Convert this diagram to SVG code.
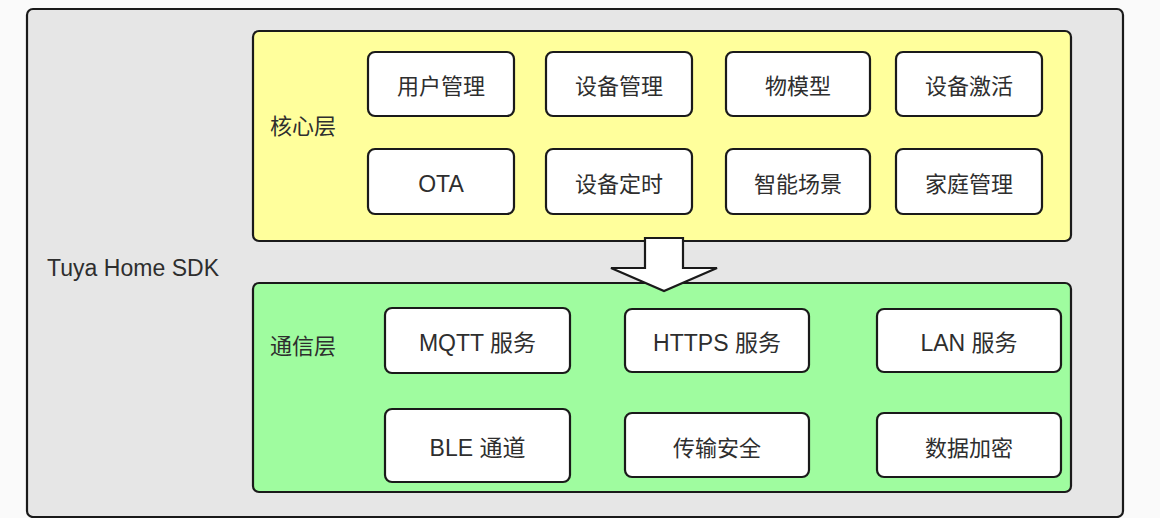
<svg xmlns="http://www.w3.org/2000/svg" width="1160" height="518" viewBox="0 0 1160 518">
<style>
  .box{fill:#ffffff;stroke:#1a1a1a;stroke-width:2.2}
  .t{font-family:"Liberation Sans","Noto Sans CJK SC",sans-serif;font-size:22px;fill:#2e2e2e;text-anchor:middle}
  .l{font-family:"Liberation Sans","Noto Sans CJK SC",sans-serif;font-size:22px;fill:#2e2e2e}
  .big{font-size:23px}
</style>
<rect x="0" y="0" width="1160" height="518" fill="#fafafa"/>
<g id="sdk">
  <rect x="27" y="9" width="1096" height="508" rx="6" fill="#e6e6e6" stroke="#1a1a1a" stroke-width="2.2"/>
  <text class="l big" x="47" y="276" textLength="172" lengthAdjust="spacing">Tuya Home SDK</text>
</g>
<g id="core-layer">
  <rect x="253" y="31" width="818" height="210" rx="6" fill="#ffff9c" stroke="#1a1a1a" stroke-width="2.2"/>
  <text class="l" x="270" y="134">核心层</text>
</g>
<g id="comm-layer">
  <rect x="253" y="283" width="818" height="209" rx="6" fill="#9ffc9f" stroke="#1a1a1a" stroke-width="2.2"/>
  <text class="l" x="270" y="354">通信层</text>
</g>
<g id="user-mgmt"><rect class="box" x="368" y="52" width="146" height="64" rx="7"/><text class="t" x="441" y="94">用户管理</text></g>
<g id="device-mgmt"><rect class="box" x="546" y="52" width="146" height="64" rx="7"/><text class="t" x="619" y="94">设备管理</text></g>
<g id="thing-model"><rect class="box" x="726" y="52" width="144" height="64" rx="7"/><text class="t" x="798" y="94">物模型</text></g>
<g id="device-activation"><rect class="box" x="896" y="52" width="146" height="64" rx="7"/><text class="t" x="969" y="94">设备激活</text></g>
<g id="ota"><rect class="box" x="368" y="149" width="146" height="65" rx="7"/><text class="t big" x="441" y="192">OTA</text></g>
<g id="device-timer"><rect class="box" x="546" y="149" width="146" height="65" rx="7"/><text class="t" x="619" y="192">设备定时</text></g>
<g id="smart-scene"><rect class="box" x="726" y="149" width="144" height="65" rx="7"/><text class="t" x="798" y="192">智能场景</text></g>
<g id="home-mgmt"><rect class="box" x="896" y="149" width="146" height="65" rx="7"/><text class="t" x="969" y="192">家庭管理</text></g>
<g id="mqtt"><rect class="box" x="385" y="308" width="185" height="65" rx="7"/><text class="t big" x="477.5" y="351">MQTT 服务</text></g>
<g id="https"><rect class="box" x="625" y="309" width="184" height="63" rx="7"/><text class="t big" x="717" y="351">HTTPS 服务</text></g>
<g id="lan"><rect class="box" x="877" y="309" width="184" height="63" rx="7"/><text class="t big" x="969" y="351">LAN 服务</text></g>
<g id="ble"><rect class="box" x="385" y="409" width="185" height="73" rx="7"/><text class="t big" x="477.5" y="456">BLE 通道</text></g>
<g id="transport-security"><rect class="box" x="625" y="413" width="184" height="64" rx="7"/><text class="t" x="717" y="456">传输安全</text></g>
<g id="data-encryption"><rect class="box" x="877" y="413" width="184" height="64" rx="7"/><text class="t" x="969" y="456">数据加密</text></g>
<g id="connectors">
  <polygon points="645,238 683,238 683,268 717,268 664,291 611,268 645,268" fill="#ffffff" stroke="#1a1a1a" stroke-width="2.2" stroke-linejoin="miter"/>
</g>
</svg>
